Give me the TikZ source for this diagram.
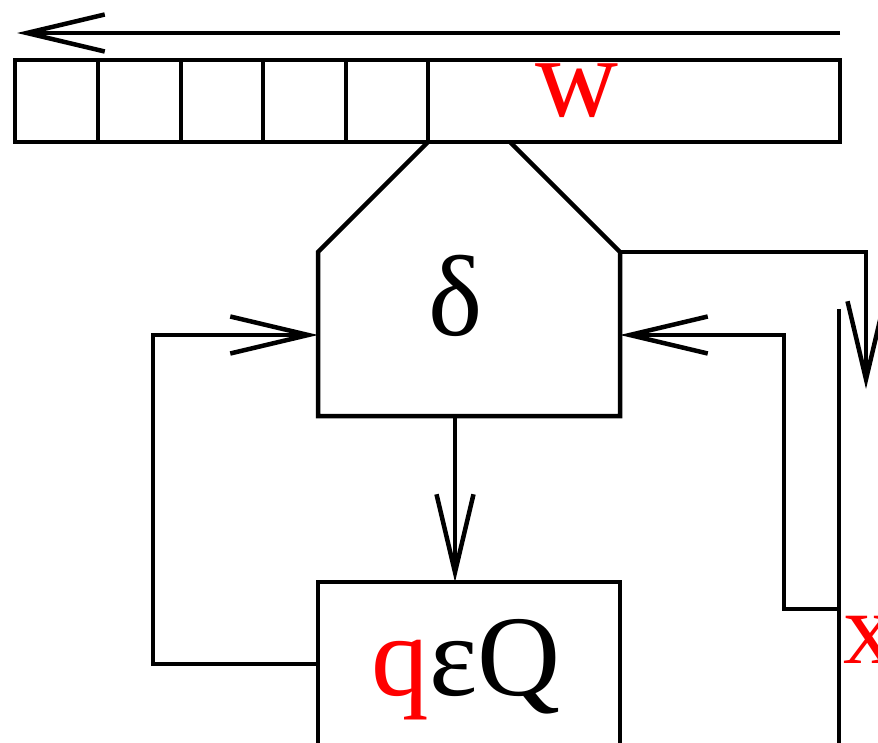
\documentclass[tikz,border=0pt]{standalone}
\usepackage{fontspec}
\setmainfont{Liberation Serif}
\usetikzlibrary{arrows.meta}
\begin{document}
\begin{tikzpicture}[x=1pt,y=-1pt,line width=4.5pt,line join=miter,
  barb/.style={-{Straight Barb[length=78pt,width=37pt]}},
  cell/.style={draw,minimum height=82pt,inner sep=0pt,outer sep=0pt},
  big/.style={font=\fontsize{115}{120}\selectfont,inner sep=0pt,anchor=base},
  mid/.style={font=\fontsize{103}{110}\selectfont,inner sep=0pt,anchor=base west}]
\useasboundingbox (0,0) rectangle (878,743);
\clip (0,0) rectangle (878,743);
% input tape
\node[cell,minimum width=83pt] (c1) at (56.5,101) {};
\node[cell,minimum width=83pt] (c2) at (139.5,101) {};
\node[cell,minimum width=82pt] (c3) at (222,101) {};
\node[cell,minimum width=83pt] (c4) at (304.5,101) {};
\node[cell,minimum width=82pt] (c5) at (387,101) {};
\node[cell,minimum width=412pt] (cw) at (634,101) {};
\node[big,text=red] (w) at (577,117) {w};
% tape direction arrow
\coordinate (tapeR) at (840,33);
\coordinate (tapeL) at (17,33);
\draw[barb] (tapeR) -- (tapeL);
% head (transition function)
\coordinate (h1) at (428,142);
\coordinate (h2) at (318,252);
\coordinate (h3) at (318,416);
\coordinate (h4) at (620,416);
\coordinate (h5) at (620,252);
\coordinate (h6) at (510,142);
\draw (h1) -- (h2) -- (h3) -- (h4) -- (h5) -- (h6);
\node[big] (delta) at (456,335) {δ};
% state box
\node[draw,minimum width=302pt,minimum height=200pt,inner sep=0pt,outer sep=0pt] (state) at (469,682) {};
\node[big] (qlab) at (466,695) {\textcolor{red}{q}εQ};
% output tape
\coordinate (otTop) at (839,309);
\coordinate (otBot) at (839,760);
\draw (otTop) -- (otBot);
\node[mid,text=red] (x) at (841,663) {x};
% head -> state
\coordinate (hb) at (455,416);
\coordinate (st) at (455,582);
\draw[barb] (hb) -- (st);
% state -> head (left loop)
\coordinate (sl) at (318,664);
\coordinate (hl) at (318,335);
\draw[barb] (sl) -- (153,664) -- (153,335) -- (hl);
% head -> output
\coordinate (oa) at (866,389);
\draw[barb] (h5) -- (866,252) -- (oa);
% output tape -> head (right loop)
\coordinate (ox) at (839,609);
\coordinate (hr) at (620,335);
\draw[barb] (ox) -- (784,609) -- (784,335) -- (hr);
\end{tikzpicture}
\end{document}
